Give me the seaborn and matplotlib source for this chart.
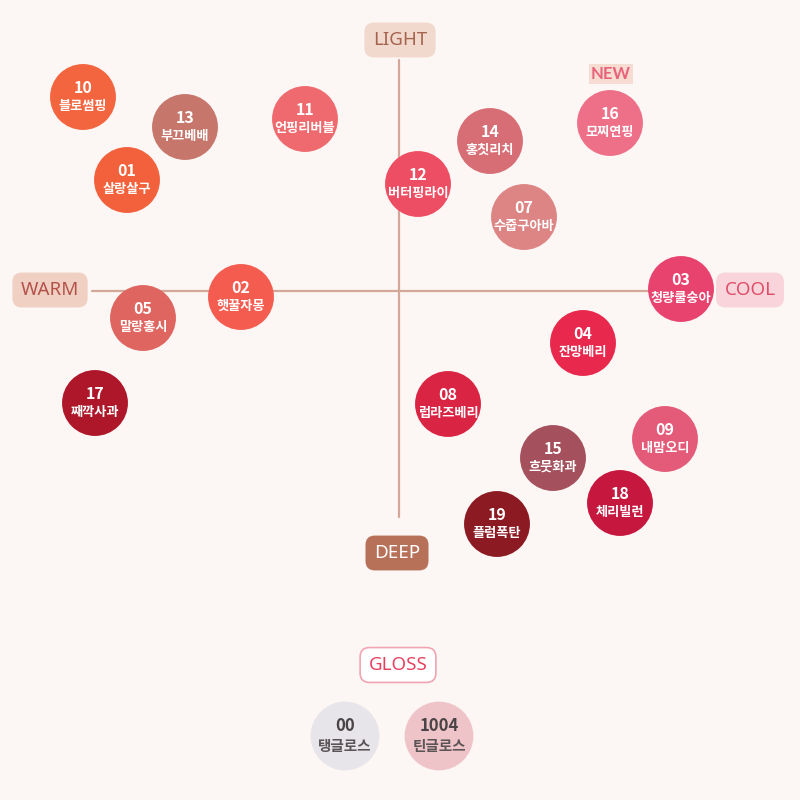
import pandas as pd
import matplotlib.pyplot as plt
import seaborn as sns

# shade chart: tone (warm < 0 < cool) vs lightness (deep < 0 < light)
codes = ["10", "13", "11", "01", "12", "14", "16", "07", "02",
         "05", "03", "04", "17", "08", "15", "09", "18", "19"]
names = ["블로썸핑", "부끄베배", "언핑리버블", "살랑살구", "버터핑라이", "홍칫리치", "모찌연핑", "수줍구아바", "햇꿀자몽",
         "말랑홍시", "청량쿨숭아", "잔망베리", "째깍사과", "럽라즈베리", "흐뭇화과", "내맘오디", "체리빌런", "플럼폭탄"]
tone = [-316, -214, -94, -272, 19, 91, 211, 125, -158,
        -256, 282, 184, -304, 49, 154, 266, 221, 98]
light = [194, 164, 172, 111, 107, 150, 168, 74, -6,
         -27, 2, -52, -112, -113, -167, -148, -212, -233]
colors = ["#F3653F", "#C6766B", "#EF6A6E", "#F2613B", "#EE4E63", "#D76E75", "#EE7088", "#DD8585", "#F45C50",
          "#DF6660", "#E8436F", "#E8284D", "#AE1629", "#DA2443", "#A4505D", "#E35B79", "#C6183F", "#8C1A22"]

gloss_codes = ["00", "1004"]
gloss_names = ["탱글로스", "틴글로스"]
gloss_tone = [-54, 40]
gloss_light = [-445, -445]
gloss_colors = ["#E7E5EA", "#EFC4C9"]

df = pd.DataFrame({"code": codes, "name": names, "tone": tone, "light": light})
gdf = pd.DataFrame({"code": gloss_codes, "name": gloss_names, "tone": gloss_tone, "light": gloss_light})

sns.set_style("white")
plt.rcParams["font.family"] = ["Noto Sans CJK KR", "DejaVu Sans"]

fig = plt.figure(figsize=(8, 8), dpi=100)
fig.patch.set_facecolor("#FCF6F4")
ax = fig.add_axes([0, 0, 1, 1])
ax.set_facecolor("#FCF6F4")
ax.set_xlim(-399, 401)
ax.set_ylim(-509, 291)
ax.axis("off")

# axis lines
line_col = "#D3A898"
ax.plot([0, 0], [231, -226], color=line_col, lw=1.6, zorder=1)
ax.plot([-307, 314], [0, 0], color=line_col, lw=1.6, zorder=1)

# swatches
sns.scatterplot(data=df, x="tone", y="light", hue="code", palette=dict(zip(codes, colors)),
                s=2250, linewidth=0, legend=False, ax=ax, zorder=3)
sns.scatterplot(data=gdf, x="tone", y="light", hue="code", palette=dict(zip(gloss_codes, gloss_colors)),
                s=2450, linewidth=0, legend=False, ax=ax, zorder=3)

for _, r in df.iterrows():
    ax.text(r.tone, r.light + 9, r.code, ha="center", va="center", color="white",
            fontsize=11.5, fontweight="bold", zorder=4)
    ax.text(r.tone, r.light - 9, r["name"], ha="center", va="center", color="white",
            fontsize=9.5, fontweight="bold", zorder=4)
for _, r in gdf.iterrows():
    ax.text(r.tone, r.light + 10, r.code, ha="center", va="center", color="#4A4446",
            fontsize=12, fontweight="bold", zorder=4)
    ax.text(r.tone, r.light - 10, r["name"], ha="center", va="center", color="#5A5456",
            fontsize=10.5, fontweight="bold", zorder=4)

# axis labels
def tag(x, y, s, fc, tc, ec="none"):
    ax.text(x, y, s, ha="center", va="center", color=tc, fontsize=13.5, family="Noto Sans",
            bbox=dict(boxstyle="round,pad=0.45,rounding_size=0.5", fc=fc, ec=ec, lw=1.2), zorder=2)

tag(1, 251, "LIGHT", "#F2D9CD", "#A5644F")
tag(-2, -262, "DEEP", "#B87159", "white")
tag(-349, 1, "WARM", "#EFD0C3", "#B4524A")
tag(351, 1, "COOL", "#F9D4DB", "#DF4E69")
tag(-1, -374, "GLOSS", "white", "#E8415F", ec="#F1A4B2")
ax.text(212, 217, "NEW", ha="center", va="center", color="#E9627C", fontsize=12,
        fontweight="bold", family="Lato",
        bbox=dict(boxstyle="square,pad=0.12", fc="#F6DCD2", ec="none"), zorder=2)

fig.savefig("out.png", dpi=100, facecolor=fig.get_facecolor())
